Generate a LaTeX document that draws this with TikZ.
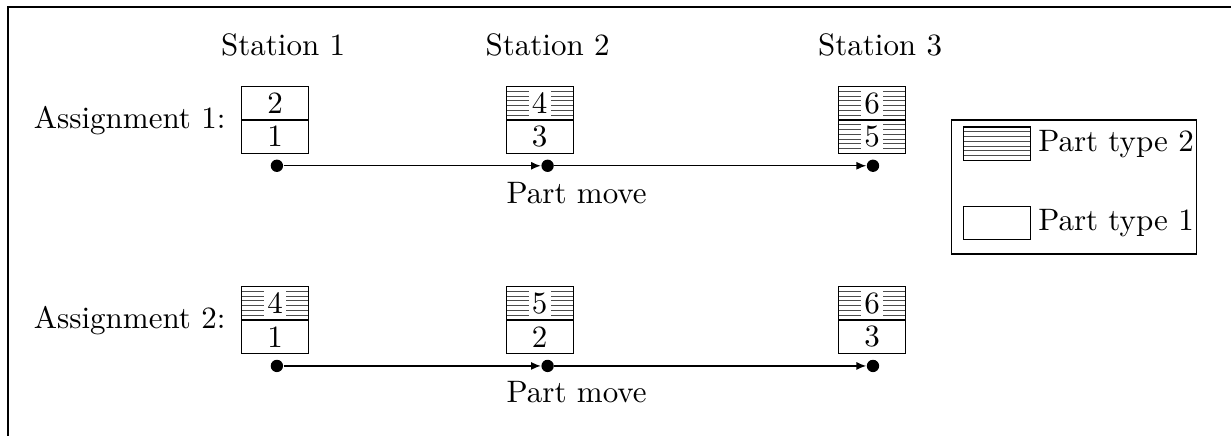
\documentclass[tikz,border=0pt]{standalone}
\usetikzlibrary{positioning,arrows.meta}
\begin{document}
\begin{tikzpicture}[
  cell/.style={draw, minimum width=0.76cm, minimum height=0.38cm, inner sep=0pt},
  hatched/.style={cell, path picture={
    \foreach \k in {1,...,6}
      \draw[black!70, line width=0.3pt]
        ([yshift=\k*0.38cm/7]path picture bounding box.south west) --
        ([yshift=\k*0.38cm/7]path picture bounding box.south east);}},
  num/.style={fill=white, inner sep=1pt},
  dot/.style={circle, fill, inner sep=0pt, minimum size=0.14cm},
  move/.style={-{Latex[length=1.1mm, width=0.9mm]}}]
  \useasboundingbox (0,0) rectangle (13.96,4.94);
  % Frame, only the top and left edges show.
  \draw (0.09,0) -- (0.09,4.86) -- (13.96,4.86);

  % Station headings.
  \foreach \x/\n in {3.21/1, 6.21/2, 9.98/3}
    \node (st\n) at (\x,4.43) {Station \n};

  % Assignment 1.
  \node[anchor=east] (as1) at (2.68,3.57) {Assignment 1:};
  \node[cell] (a1l1) at (3.12,3.39) {1};
  \node[cell] (a1u1) at (3.12,3.77) {2};
  \node[cell] (a1l2) at (6.12,3.39) {3};
  \node[hatched, label={[num]center:4}] (a1u2) at (6.12,3.77) {};
  \node[hatched, label={[num]center:5}] (a1l3) at (9.89,3.39) {};
  \node[hatched, label={[num]center:6}] (a1u3) at (9.89,3.77) {};
  \node[dot] (d11) at (3.14,3.06) {};
  \node[dot] (d12) at (6.21,3.06) {};
  \node[dot] (d13) at (9.90,3.06) {};
  \draw[move] (d11) -- (d12);
  \draw[move] (d12) -- (d13);
  \node (pm1) at (6.54,2.755) {Part move};

  % Assignment 2.
  \node[anchor=east] (as2) at (2.68,1.30) {Assignment 2:};
  \node[cell] (a2l1) at (3.12,1.12) {1};
  \node[hatched, label={[num]center:4}] (a2u1) at (3.12,1.50) {};
  \node[cell] (a2l2) at (6.12,1.12) {2};
  \node[hatched, label={[num]center:5}] (a2u2) at (6.12,1.50) {};
  \node[cell] (a2l3) at (9.89,1.12) {3};
  \node[hatched, label={[num]center:6}] (a2u3) at (9.89,1.50) {};
  \node[dot] (d21) at (3.14,0.79) {};
  \node[dot] (d22) at (6.21,0.79) {};
  \node[dot] (d23) at (9.90,0.79) {};
  \draw[move] (d21) -- (d22);
  \draw[move] (d22) -- (d23);
  \node (pm2) at (6.54,0.49) {Part move};

  % Legend.
  \draw (10.79,2.06) rectangle (13.57,3.58);
  \node[hatched] (key2) at (11.31,3.31) {};
  \node[right=0pt of key2, inner sep=2pt] (key2t) {Part type 2};
  \node[cell] (key1) at (11.31,2.41) {};
  \node[right=0pt of key1, inner sep=2pt] (key1t) {Part type 1};
\end{tikzpicture}
\end{document}
